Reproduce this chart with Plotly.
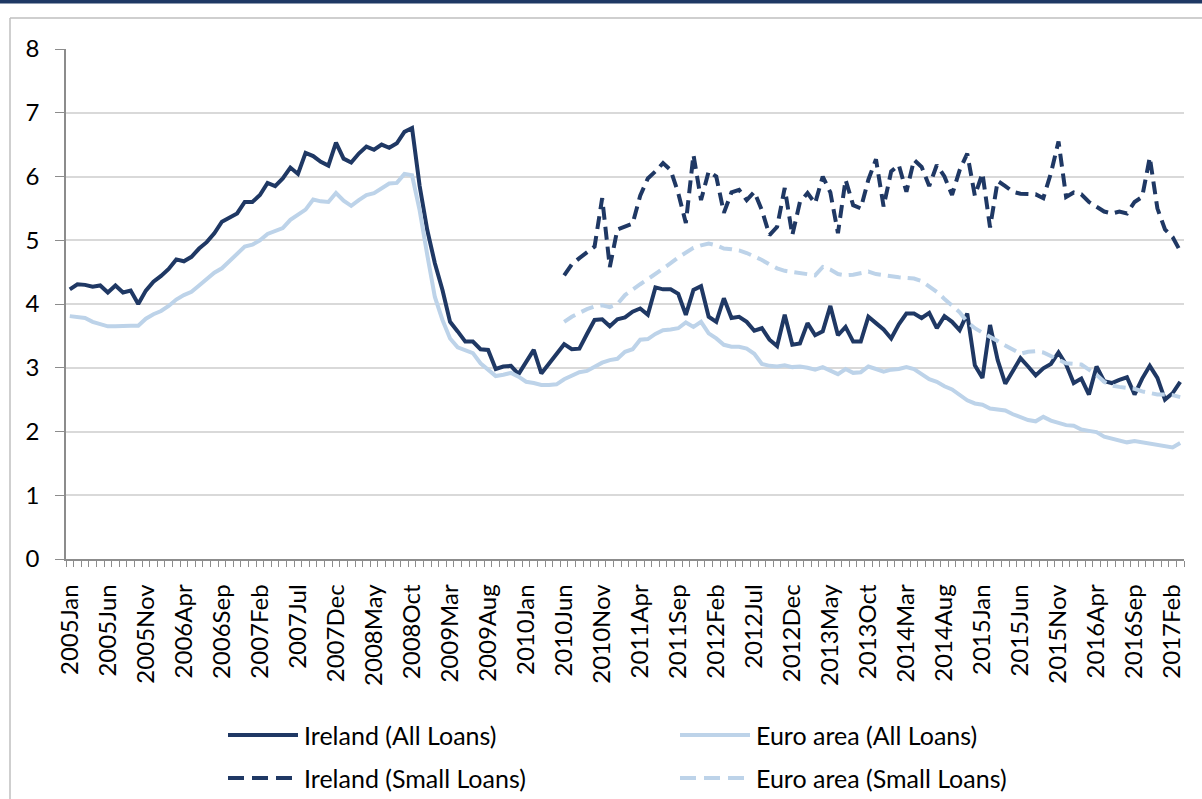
import plotly.graph_objects as go

# ---------------- data ----------------
years = list(range(2005, 2018))
month_abbr = ["Jan", "Feb", "Mar", "Apr", "May", "Jun",
              "Jul", "Aug", "Sep", "Oct", "Nov", "Dec"]
months = [f"{y}{m}" for y in years for m in month_abbr][:147]   # 2005Jan .. 2017Mar

ireland_all = [
    4.23, 4.31, 4.30, 4.27, 4.29, 4.18, 4.29, 4.18, 4.21, 4.00,
    4.21, 4.35, 4.44, 4.55, 4.70, 4.67, 4.74, 4.87, 4.97, 5.11,
    5.29, 5.36, 5.42, 5.60, 5.60, 5.71, 5.90, 5.85, 5.97, 6.14,
    6.04, 6.37, 6.32, 6.23, 6.17, 6.53, 6.28, 6.22, 6.36, 6.47,
    6.42, 6.50, 6.45, 6.52, 6.70, 6.76, 5.85, 5.16, 4.64, 4.22,
    3.72, 3.57, 3.41, 3.41, 3.29, 3.28, 2.98, 3.02, 3.03, 2.90,
    3.09, 3.28, 2.91, 3.06, 3.22, 3.37, 3.29, 3.30, 3.53, 3.75,
    3.76, 3.65, 3.76, 3.79, 3.88, 3.93, 3.83, 4.26, 4.23, 4.23,
    4.16, 3.83, 4.22, 4.28, 3.80, 3.72, 4.09, 3.78, 3.80, 3.72,
    3.58, 3.62, 3.44, 3.34, 3.83, 3.36, 3.38, 3.70, 3.51, 3.57,
    3.97, 3.51, 3.64, 3.41, 3.41, 3.80, 3.70, 3.60, 3.46, 3.68,
    3.85, 3.85, 3.78, 3.86, 3.62, 3.81, 3.72, 3.59, 3.85, 3.04,
    2.84, 3.67, 3.12, 2.75, 2.95, 3.15, 3.02, 2.88, 2.99, 3.06,
    3.24, 3.05, 2.76, 2.83, 2.58, 3.02, 2.79, 2.76, 2.81, 2.85,
    2.58, 2.83, 3.03, 2.84, 2.50, 2.60, 2.78,
]

euro_all = [
    3.81, 3.80, 3.78, 3.72, 3.68, 3.65, 3.65, 3.66, 3.66, 3.66,
    3.77, 3.84, 3.89, 3.97, 4.07, 4.14, 4.19, 4.29, 4.40, 4.49,
    4.56, 4.68, 4.78, 4.90, 4.93, 5.00, 5.10, 5.15, 5.19, 5.32,
    5.40, 5.48, 5.64, 5.61, 5.60, 5.74, 5.62, 5.54, 5.63, 5.71,
    5.74, 5.81, 5.89, 5.90, 6.04, 6.02, 5.47, 4.77, 4.11, 3.75,
    3.46, 3.32, 3.27, 3.23, 3.07, 2.96, 2.87, 2.89, 2.92, 2.86,
    2.78, 2.76, 2.73, 2.73, 2.74, 2.82, 2.87, 2.93, 2.95, 3.02,
    3.08, 3.12, 3.14, 3.25, 3.29, 3.44, 3.45, 3.53, 3.59, 3.60,
    3.62, 3.71, 3.64, 3.72, 3.54, 3.46, 3.36, 3.33, 3.33, 3.30,
    3.22, 3.06, 3.03, 3.02, 3.04, 3.01, 3.02, 3.00, 2.97, 3.01,
    2.95, 2.90, 2.98, 2.92, 2.93, 3.02, 2.98, 2.94, 2.97, 2.98,
    3.01, 2.98, 2.90, 2.82, 2.78, 2.71, 2.66, 2.58, 2.49, 2.44,
    2.42, 2.36, 2.35, 2.33, 2.27, 2.22, 2.18, 2.16, 2.23, 2.17,
    2.13, 2.10, 2.09, 2.03, 2.01, 1.99, 1.92, 1.89, 1.86, 1.83,
    1.85, 1.83, 1.81, 1.80, 1.78, 1.75, 1.82,
]

# small-loan series start in 2010Jun (index 65)
small_start = 65
ireland_small = [
    4.45, 4.62, 4.72, 4.82, 4.90,
    5.66, 4.58, 5.17, 5.22, 5.26, 5.70, 5.97, 6.08, 6.21, 6.10,
    5.74, 5.27, 6.34, 5.63, 6.08, 6.00, 5.43, 5.75, 5.79, 5.63,
    5.76, 5.47, 5.08, 5.21, 5.82, 5.08, 5.60, 5.74, 5.58, 6.00,
    5.75, 5.11, 5.95, 5.55, 5.50, 5.95, 6.27, 5.53, 6.08, 6.18,
    5.76, 6.26, 6.15, 5.85, 6.18, 6.00, 5.71, 6.10, 6.36, 5.70,
    6.05, 5.20, 5.93, 5.85, 5.76, 5.73, 5.72, 5.72, 5.66, 6.05,
    6.55, 5.68, 5.75, 5.72, 5.60, 5.52, 5.45, 5.42, 5.45, 5.42,
    5.60, 5.68, 6.30, 5.50, 5.17, 5.05, 4.83,
]

euro_small = [
    3.72, 3.80, 3.86, 3.92, 3.96,
    3.98, 3.95, 4.00, 4.14, 4.23, 4.31, 4.39, 4.47, 4.55, 4.64,
    4.73, 4.81, 4.88, 4.92, 4.95, 4.92, 4.87, 4.86, 4.84, 4.80,
    4.75, 4.69, 4.62, 4.56, 4.52, 4.50, 4.48, 4.46, 4.45, 4.58,
    4.54, 4.47, 4.45, 4.46, 4.48, 4.51, 4.47, 4.45, 4.43, 4.42,
    4.41, 4.40, 4.36, 4.27, 4.19, 4.08, 3.97, 3.87, 3.72, 3.62,
    3.55, 3.49, 3.42, 3.35, 3.28, 3.22, 3.25, 3.26, 3.24, 3.18,
    3.12, 3.07, 3.06, 3.05, 2.97, 2.89, 2.78, 2.72, 2.70, 2.69,
    2.67, 2.63, 2.61, 2.58, 2.58, 2.57, 2.54,
]

series_names = ["Ireland (All Loans)", "Euro area (All Loans)",
                "Ireland (Small Loans)", "Euro area (Small Loans)"]

# ---------------- styles ----------------
DARK = "#1F3864"
LIGHT = "#BDD3E9"
FONT = "Lato"
W, H = 1202, 799
L, R, T, B = 66, 1184, 49, 559   # plot area in pixels

fig = go.Figure()
fig.add_trace(go.Scatter(x=months, y=ireland_all, name=series_names[0], mode="lines",
                         line=dict(color=DARK, width=4)))
fig.add_trace(go.Scatter(x=months, y=euro_all, name=series_names[1], mode="lines",
                         line=dict(color=LIGHT, width=4)))
fig.add_trace(go.Scatter(x=months[small_start:], y=ireland_small, name=series_names[2], mode="lines",
                         line=dict(color=DARK, width=4, dash="13px,7px")))
fig.add_trace(go.Scatter(x=months[small_start:], y=euro_small, name=series_names[3], mode="lines",
                         line=dict(color=LIGHT, width=4, dash="13px,7px")))

ticktext = [m if i % 5 == 0 else "" for i, m in enumerate(months)]

fig.update_xaxes(type="category", categoryorder="array", categoryarray=months,
                 tickmode="array", tickvals=months, ticktext=ticktext,
                 tickson="boundaries", ticks="outside", ticklen=6, tickcolor="#8C8C8C",
                 tickangle=-90, tickfont=dict(family=FONT, size=24, color="#000000"),
                 showline=True, linecolor="#8C8C8C", linewidth=1.5,
                 showgrid=False, zeroline=False, range=[-0.5, len(months) - 0.5],
                 ticklabelstandoff=14)
fig.update_yaxes(range=[0, 8], dtick=1, tick0=0, ticks="outside", ticklen=9,
                 tickcolor="#8C8C8C", tickfont=dict(family=FONT, size=24, color="#000000"),
                 showline=True, linecolor="#8C8C8C", linewidth=1.5,
                 showgrid=True, gridcolor="#D9D9D9", gridwidth=1.5, zeroline=False,
                 ticklabelstandoff=11)

def px_x(px):
    return (px - L) / (R - L)

def px_y(py):
    return (B - py) / (B - T)

shapes = [
    # navy rule across the very top
    dict(type="line", xref="paper", yref="paper", x0=px_x(0), x1=px_x(W), y0=px_y(1.5), y1=px_y(1.5),
         line=dict(color=DARK, width=4)),
    # grey chart-area frame (top and left edges visible)
    dict(type="line", xref="paper", yref="paper", x0=px_x(10), x1=px_x(W + 5), y0=px_y(18), y1=px_y(18),
         line=dict(color="#BFBFBF", width=1.5)),
    dict(type="line", xref="paper", yref="paper", x0=px_x(10), x1=px_x(10), y0=px_y(18), y1=px_y(H + 5),
         line=dict(color="#BFBFBF", width=1.5)),
]

# manual legend (2 x 2 grid, long line samples as in the original)
legend_items = [
    (series_names[0], DARK, "solid", 228, 735),
    (series_names[1], LIGHT, "solid", 680, 735),
    (series_names[2], DARK, "16px,8px", 228, 778),
    (series_names[3], LIGHT, "16px,8px", 680, 778),
]
annotations = []
for name, color, dash, lx, ly in legend_items:
    shapes.append(dict(type="line", xref="paper", yref="paper",
                       x0=px_x(lx), x1=px_x(lx + 70), y0=px_y(ly), y1=px_y(ly),
                       line=dict(color=color, width=4, dash=dash)))
    annotations.append(dict(xref="paper", yref="paper", x=px_x(lx + 74), y=px_y(ly),
                            text=name, showarrow=False, xanchor="left", yanchor="middle",
                            font=dict(family=FONT, size=25, color="#000000")))

fig.update_layout(width=W, height=H, margin=dict(l=L, r=W - R, t=T, b=H - B),
                  paper_bgcolor="white", plot_bgcolor="white", showlegend=False,
                  shapes=shapes, annotations=annotations)

fig.write_html("out.html", config={"displayModeBar": False},
               post_script="document.body.style.margin='0px';")
